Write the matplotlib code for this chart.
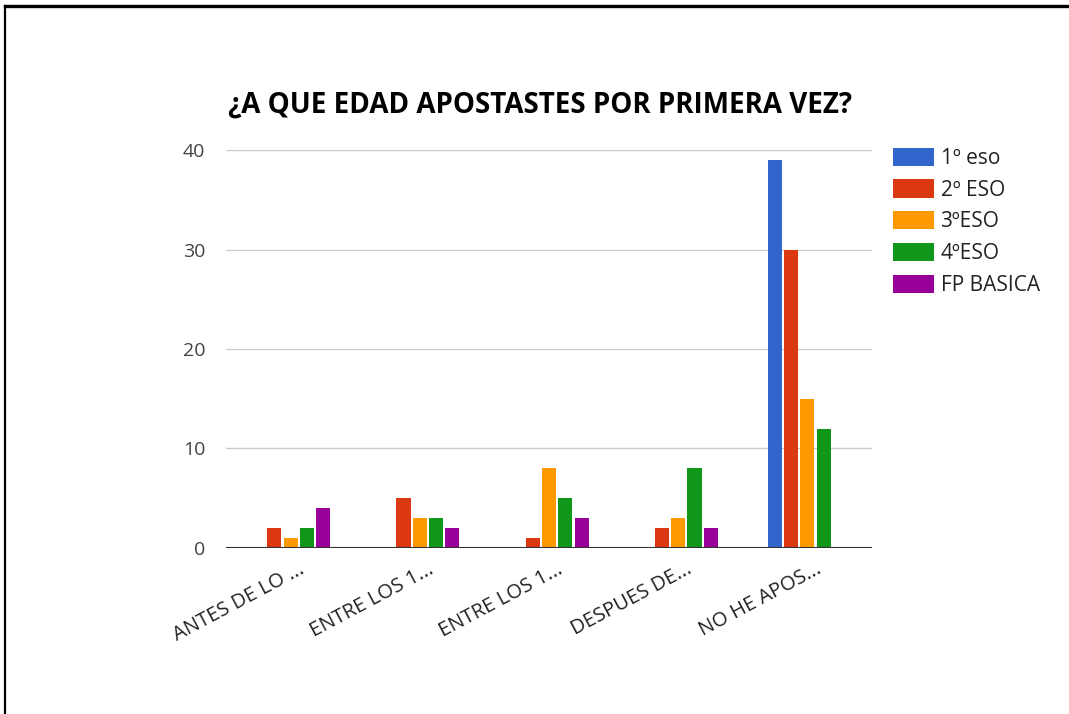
import numpy as np
import matplotlib
matplotlib.use("Agg")
import matplotlib.pyplot as plt
from matplotlib.lines import Line2D

plt.rcParams['font.family'] = ['Open Sans', 'DejaVu Sans']

# datos
categorias = ["ANTES DE LO ...", "ENTRE LOS 1...", "ENTRE LOS 1...", "DESPUES DE...", "NO HE APOS..."]
cursos = ["1º eso", "2º ESO", "3ºESO", "4ºESO", "FP BASICA"]
eso1 = [0, 0, 0, 0, 39]
eso2 = [2, 5, 1, 2, 30]
eso3 = [1, 3, 8, 3, 15]
eso4 = [2, 3, 5, 8, 12]
fp_basica = [4, 2, 3, 2, 0]
colores = ["#3366cc", "#dc3912", "#ff9900", "#109618", "#990099"]

series = [eso1, eso2, eso3, eso4, fp_basica]

fig = plt.figure(figsize=(10.69, 7.14), dpi=100)
ax = fig.add_axes([0.2114, 0.2325, 0.6043, 0.5574])

x = np.arange(len(categorias))
paso = 0.126
for i, (vals, col, nombre) in enumerate(zip(series, colores, cursos)):
    ax.bar(x + (i - 2) * paso, vals, width=0.109, color=col, label=nombre, zorder=3)

ax.set_xlim(-0.5, 4.5)
ax.set_ylim(0, 40)
ax.set_yticks([0, 10, 20, 30, 40])
ax.yaxis.grid(True, color="#cccccc", linewidth=1, zorder=0)
ax.axhline(0, color="#333333", linewidth=1.5, zorder=4)
for s in ax.spines.values():
    s.set_visible(False)
ax.tick_params(axis="y", length=0, pad=15, labelsize=14, labelcolor="#444444")
ax.tick_params(axis="x", length=0, pad=8)
ax.set_xticks(x + 0.06)
ax.set_xticklabels(categorias, rotation=28, ha="right", rotation_mode="anchor",
                   fontsize=14.5, color="#222222")

fig.text(0.505, 0.853, "¿A QUE EDAD APOSTASTES POR PRIMERA VEZ?", ha="center", va="center",
         fontsize=20, fontweight="bold", color="black")

fig.legend(loc="upper left", bbox_to_anchor=(0.835, 0.793), frameon=False, fontsize=15,
           handlelength=2.0, handleheight=0.97, handletextpad=0.3, labelspacing=0.5,
           borderpad=0, borderaxespad=0, labelcolor="#222222")

# marco
fig.add_artist(Line2D([0.0049, 0.0049], [0, 0.9916], transform=fig.transFigure, color="black", linewidth=1.6))
fig.add_artist(Line2D([0.0049, 1], [0.9916, 0.9916], transform=fig.transFigure, color="black", linewidth=2.4))

fig.savefig("out.png", dpi=100)
